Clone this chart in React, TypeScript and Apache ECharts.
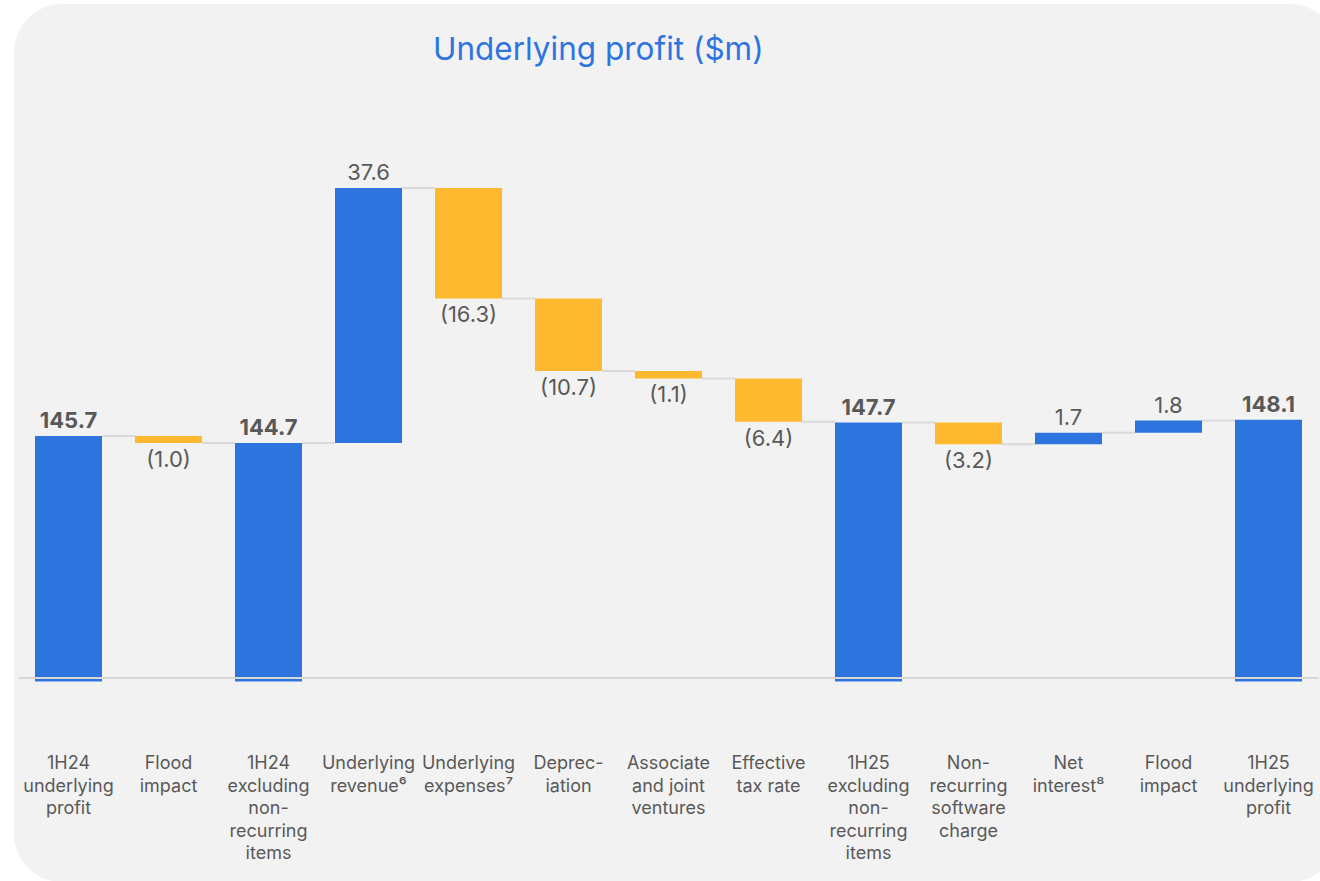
import React, { useEffect, useRef } from "react";
import * as echarts from "echarts";

const categories = [
  "1H24\nunderlying\nprofit",
  "Flood\nimpact",
  "1H24\nexcluding\nnon-\nrecurring\nitems",
  "Underlying\nrevenue⁶",
  "Underlying\nexpenses⁷",
  "Deprec-\niation",
  "Associate\nand joint\nventures",
  "Effective\ntax rate",
  "1H25\nexcluding\nnon-\nrecurring\nitems",
  "Non-\nrecurring\nsoftware\ncharge",
  "Net\ninterest⁸",
  "Flood\nimpact",
  "1H25\nunderlying\nprofit",
];
const values = [145.7, -1.0, 144.7, 37.6, -16.3, -10.7, -1.1, -6.4, 147.7, -3.2, 1.7, 1.8, 148.1];
const isTotal = [true, false, true, false, false, false, false, false, true, false, false, false, true];
const valueLabels = ["145.7", "(1.0)", "144.7", "37.6", "(16.3)", "(10.7)", "(1.1)", "(6.4)", "147.7", "(3.2)", "1.7", "1.8", "148.1"];

const BLUE = "#2E74DE";
const ORANGE = "#FFB92E";
const TEXT = "#595959";
const FONT = "Inter, 'Noto Sans', sans-serif";

export default function App() {
  const ref = useRef<HTMLDivElement>(null);
  useEffect(() => {
    if (!ref.current) return;
    const chart = echarts.init(ref.current, null, { renderer: "svg" });

    const placeholder: number[] = [];
    const visible: any[] = [];
    const ends: number[] = [];
    let running = 0;
    values.forEach((v, i) => {
      if (isTotal[i]) {
        placeholder.push(0);
        running = v;
        ends.push(v);
        visible.push({
          value: v,
          itemStyle: { color: BLUE },
          label: { position: "top", fontWeight: "bold", formatter: valueLabels[i] },
        });
      } else {
        const start = running;
        const end = running + v;
        placeholder.push(Math.min(start, end));
        running = end;
        ends.push(end);
        visible.push({
          value: Math.abs(v),
          itemStyle: { color: v >= 0 ? BLUE : ORANGE },
          label: { position: v >= 0 ? "top" : "bottom", fontWeight: "normal", formatter: valueLabels[i] },
        });
      }
    });
    const connectors = ends.slice(0, ends.length - 1).map((lvl, i) => [i, lvl]);
    const BW = 67;

    chart.setOption({
      animation: false,
      backgroundColor: "#ffffff",
      graphic: [
        {
          type: "rect",
          z: -10,
          silent: true,
          shape: { x: 14, y: 4, width: 1324, height: 878, r: 48 },
          style: { fill: "#F2F2F2" },
        },
      ],
      title: {
        text: "Underlying profit ($m)",
        left: 428,
        top: 27,
        textStyle: { color: BLUE, fontSize: 31.5, fontWeight: "normal", fontFamily: FONT },
      },
      grid: { left: 18.5, right: 1.5, top: 68, bottom: 199.5, containLabel: false },
      xAxis: {
        type: "category",
        data: categories,
        axisLine: { show: false },
        axisTick: { show: false },
        axisLabel: {
          interval: 0,
          margin: 70,
          fontSize: 18,
          lineHeight: 22.5,
          color: TEXT,
          fontFamily: FONT,
        },
      },
      yAxis: {
        type: "value",
        min: 109.5,
        max: 200,
        show: false,
        splitLine: { show: false },
      },
      series: [
        {
          type: "bar",
          stack: "w",
          barWidth: BW,
          data: placeholder,
          itemStyle: { color: "transparent" },
          emphasis: { disabled: true },
          silent: true,
        },
        {
          type: "bar",
          stack: "w",
          barWidth: BW,
          data: visible,
          label: {
            show: true,
            fontSize: 22,
            color: TEXT,
            fontFamily: FONT,
            distance: 5,
          },
        },
        {
          type: "custom",
          z: 5,
          data: connectors,
          renderItem: (params: any, api: any) => {
            const i = api.value(0);
            const lvl = api.value(1);
            const p1 = api.coord([i, lvl]);
            const p2 = api.coord([i + 1, lvl]);
            return {
              type: "line",
              shape: { x1: p1[0] + BW / 2, y1: p1[1], x2: p2[0] - BW / 2, y2: p2[1] },
              style: { stroke: "#D9D9D9", lineWidth: 2 },
            };
          },
          markLine: {
            silent: true,
            symbol: "none",
            label: { show: false },
            lineStyle: { color: "#D6D6D6", width: 2, type: "solid" },
            data: [{ yAxis: 110 }],
          },
        },
      ],
    });
    return () => chart.dispose();
  }, []);
  return <div ref={ref} style={{ position: "fixed", left: 0, top: 0, width: 1320, height: 881 }} />;
}
